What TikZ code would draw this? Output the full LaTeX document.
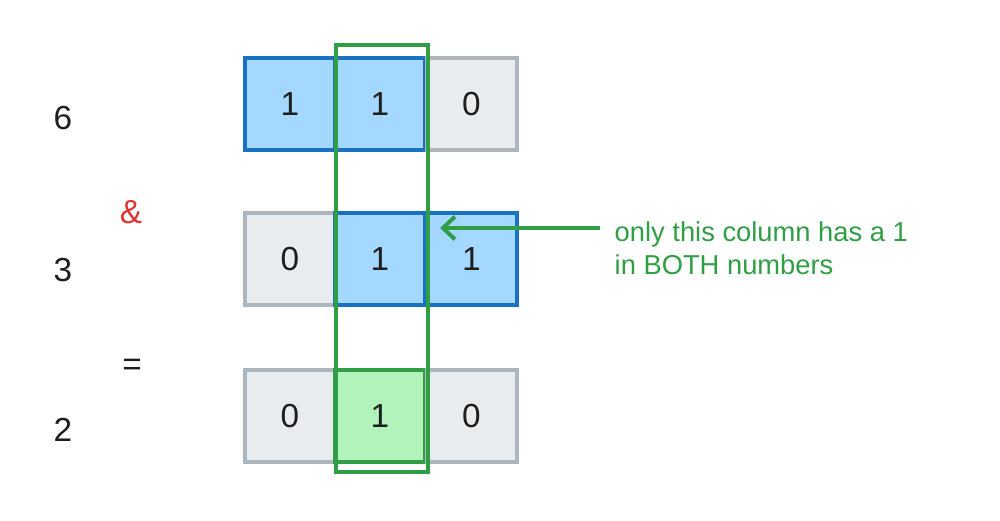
\documentclass[tikz,border=0pt]{standalone}
\usepackage{fontspec}
\setmainfont{Liberation Sans}
\usetikzlibrary{arrows.meta}
\definecolor{bluefill}{HTML}{A5D8FF}
\definecolor{bluestroke}{HTML}{1971C2}
\definecolor{greyfill}{HTML}{E9ECEF}
\definecolor{greystroke}{HTML}{ADB5BD}
\definecolor{greenfill}{HTML}{B2F2BB}
\definecolor{greenstroke}{HTML}{2F9E44}
\definecolor{redtext}{HTML}{E03131}
\definecolor{ink}{HTML}{1E1E1E}
\tikzset{
  cell/.style={rectangle, draw, line width=3pt, minimum width=67.5pt, minimum height=69pt, inner sep=0pt, text=ink, font=\fontsize{25}{29}\selectfont},
  onecell/.style={cell, fill=bluefill, draw=bluestroke},
  zerocell/.style={cell, fill=greyfill, draw=greystroke},
  rescell/.style={cell, fill=greenfill, draw=greenstroke},
  colbox/.style={rectangle, draw=greenstroke, line width=3.2pt, minimum width=69pt, minimum height=320pt, inner sep=0pt},
  numlabel/.style={text=ink, font=\fontsize{25}{29}\selectfont},
  oplabel/.style={font=\fontsize{25}{29}\selectfont},
  note/.style={text=greenstroke, align=left, font=\fontsize{20.5}{25}\selectfont},
  arrowline/.style={draw=greenstroke, line width=3pt, -{Straight Barb[length=9pt,width=17pt,line width=3pt]}}
}
\begin{document}
\begin{tikzpicture}[x=0.75pt,y=-0.75pt]
\useasboundingbox (0,0) rectangle (1000,521);
% left labels
\node[numlabel] (six) at (63,118) {6};
\node[oplabel, text=redtext] (amp) at (131,212) {\&};
\node[numlabel] (three) at (63,270) {3};
\node[oplabel, text=ink] (eq) at (132,367) {=};
\node[numlabel] (two) at (63,430) {2};
% row 1: 6 = 110
\node[onecell] (a1) at (290,104) {1};
\node[onecell] (a2) at (380,104) {1};
\node[zerocell] (a3) at (471.5,104) {0};
% row 2: 3 = 011
\node[zerocell] (b1) at (290,259) {0};
\node[onecell] (b2) at (380,259) {1};
\node[onecell] (b3) at (471.5,259) {1};
% row 3: 2 = 010
\node[zerocell] (c1) at (290,416) {0};
\node[rescell] (c2) at (380,416) {1};
\node[zerocell] (c3) at (471.5,416) {0};
% highlighted column
\node[colbox] (col) at (382,258.5) {};
% annotation
\node[note, anchor=west] (txt) at (610,248) {only this column has a 1\\in BOTH numbers};
\coordinate (tail) at (600,228);
\coordinate (tip) at (440,228);
\draw[arrowline] (tail) -- (tip);
\end{tikzpicture}
\end{document}
